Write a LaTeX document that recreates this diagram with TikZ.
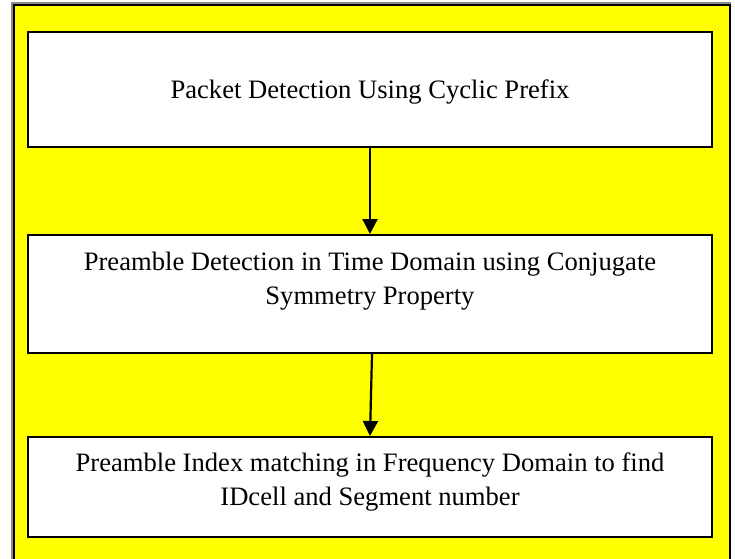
\documentclass[tikz,border=0pt]{standalone}
\usepackage{fontspec}
\setmainfont{Liberation Serif}
\usetikzlibrary{arrows.meta,positioning,calc}
\definecolor{ink}{HTML}{000000}
\definecolor{panel}{HTML}{FFFF00}
\definecolor{edge}{HTML}{8A8A8A}
\tikzset{
  every node/.style={font=\fontsize{26.6}{34}\selectfont, text=ink},
  frame/.style={draw=ink, fill=panel, line width=2pt},
  stagebox/.style={draw=ink, fill=white, line width=2pt, minimum width=684pt, inner sep=0pt},
  label/.style={align=center, anchor=base, inner sep=0pt},
  arr/.style={-{Triangle[length=15pt, width=15pt]}, draw=ink, line width=2.2pt},
}

\begin{document}
\begin{tikzpicture}[x=1pt, y=-1pt]
  \useasboundingbox (0,0) rectangle (735,558);
  \clip (0,0) rectangle (735,558);

  % yellow panel, runs past the bottom edge
  \draw[edge, line width=3.2pt] (13,4) rectangle (729,580);
  \node[frame, minimum width=716pt, minimum height=576pt, inner sep=0pt, anchor=north west] (panel) at (13,4) {};

  % the three stages
  \node[stagebox, minimum height=115pt] (b1) at (370,89.5) {};
  \node[stagebox, minimum height=118pt] (b2) at (370,294) {};
  \node[stagebox, minimum height=100pt] (b3) at (370,487) {};

  % base anchor sits on the last line
  \node[label] (t1) at ($(b1.north)+(0,67)$) {Packet Detection Using Cyclic Prefix};
  \node[label] (t2) at ($(b2.north)+(0,70)$) {Preamble Detection in Time Domain using Conjugate\\Symmetry Property};
  \node[label] (t3) at ($(b3.north)+(0,69)$) {Preamble Index matching in Frequency Domain to find\\IDcell and Segment number};

  \draw[arr] (b1.south) -- (b2.north);
  \draw[arr] ($(b2.south)+(2,0)$) -- (b3.north);
\end{tikzpicture}
\end{document}
